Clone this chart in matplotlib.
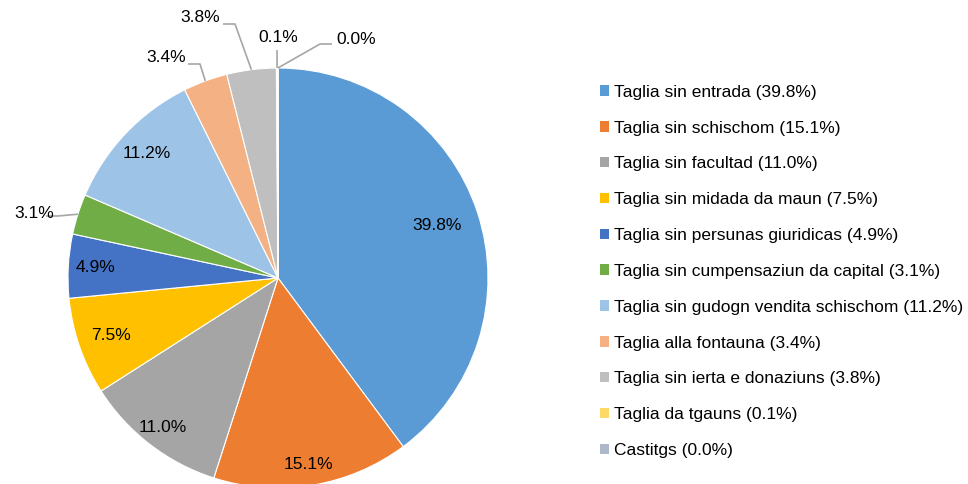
import numpy as np
import matplotlib
matplotlib.use("Agg")
from matplotlib import pyplot as plt

plt.rcParams["font.family"] = ["Liberation Sans", "DejaVu Sans"]

categories = [
    "Taglia sin entrada",
    "Taglia sin schischom",
    "Taglia sin facultad",
    "Taglia sin midada da maun",
    "Taglia sin persunas giuridicas",
    "Taglia sin cumpensaziun da capital",
    "Taglia sin gudogn vendita schischom",
    "Taglia alla fontauna",
    "Taglia sin ierta e donaziuns",
    "Taglia da tgauns",
    "Castitgs",
]
shares = [39.8, 15.1, 11.0, 7.5, 4.9, 3.1, 11.2, 3.4, 3.8, 0.1, 0.02]
shown = ["39.8%", "15.1%", "11.0%", "7.5%", "4.9%", "3.1%", "11.2%", "3.4%", "3.8%", "0.1%", "0.0%"]
colors = ["#5B9BD5", "#ED7D31", "#A5A5A5", "#FFC000", "#4472C4", "#70AD47",
          "#9DC3E6", "#F4B183", "#BFBFBF", "#FFD966", "#ADB9CA"]

W, H = 968, 484
cx, cy, R = 278, 278, 210  # pie centre / radius in pixels
fs = 12.5

fig = plt.figure(figsize=(W / 100, H / 100), dpi=100)
ax = fig.add_axes([0, 0, 1, 1])

wedges, _ = ax.pie(shares, colors=colors, startangle=90, counterclock=False,
                   radius=1.0, wedgeprops=dict(edgecolor="white", linewidth=0.8))
ax.set_xlim(-cx / R, (W - cx) / R)
ax.set_ylim(-(H - cy) / R, cy / R)
ax.set_aspect("equal", adjustable="datalim")
ax.axis("off")

def px(x, y):
    return (x - cx) / R, (cy - y) / R

# inside labels: radius fraction per slice
inside = {0: 0.80, 1: 0.90, 2: 0.90, 3: 0.84, 4: 0.87, 6: 0.86}
# outside labels: (elbow pixel, text pixel, ha)
outside = {
    5: ((58, 216), (54, 213), "right"),
    7: ((200, 64), (186, 58), "right"),
    8: ((235, 24), (220, 18), "right"),
    9: ((277, 50), (278, 38), "center"),
    10: ((320, 44), (336, 40), "left"),
}

for i, w in enumerate(wedges):
    mid = np.deg2rad((w.theta1 + w.theta2) / 2)
    if i in inside:
        r = inside[i]
        ax.text(r * np.cos(mid), r * np.sin(mid), shown[i], ha="center",
                va="center", fontsize=fs, color="#000000")
    else:
        (ex, ey), (tx, ty), ha = outside[i]
        x0, y0 = np.cos(mid), np.sin(mid)
        x1, y1 = px(ex, ey)
        if ha == "right":
            x2 = x1 - 12 / R
        elif ha == "left":
            x2 = x1 + 12 / R
        else:
            x2 = x1
        ax.plot([x0, x1, x2], [y0, y1, y1], color="#A6A6A6", lw=1.2,
                solid_capstyle="butt")
        ax.text(*px(tx, ty), shown[i], ha=ha, va="center", fontsize=fs,
                color="#000000")

labels = [f"{c} ({s})" for c, s in zip(categories, shown)]
leg = fig.legend(wedges, labels, loc="upper left",
                 bbox_to_anchor=(591 / W, 1 - 76 / H), frameon=False,
                 fontsize=fs, handlelength=0.55, handleheight=0.55,
                 handletextpad=0.3, labelspacing=1.2, borderpad=0)
for h in leg.legend_handles:
    h.set_edgecolor("none")

fig.savefig("out.png", dpi=100)
